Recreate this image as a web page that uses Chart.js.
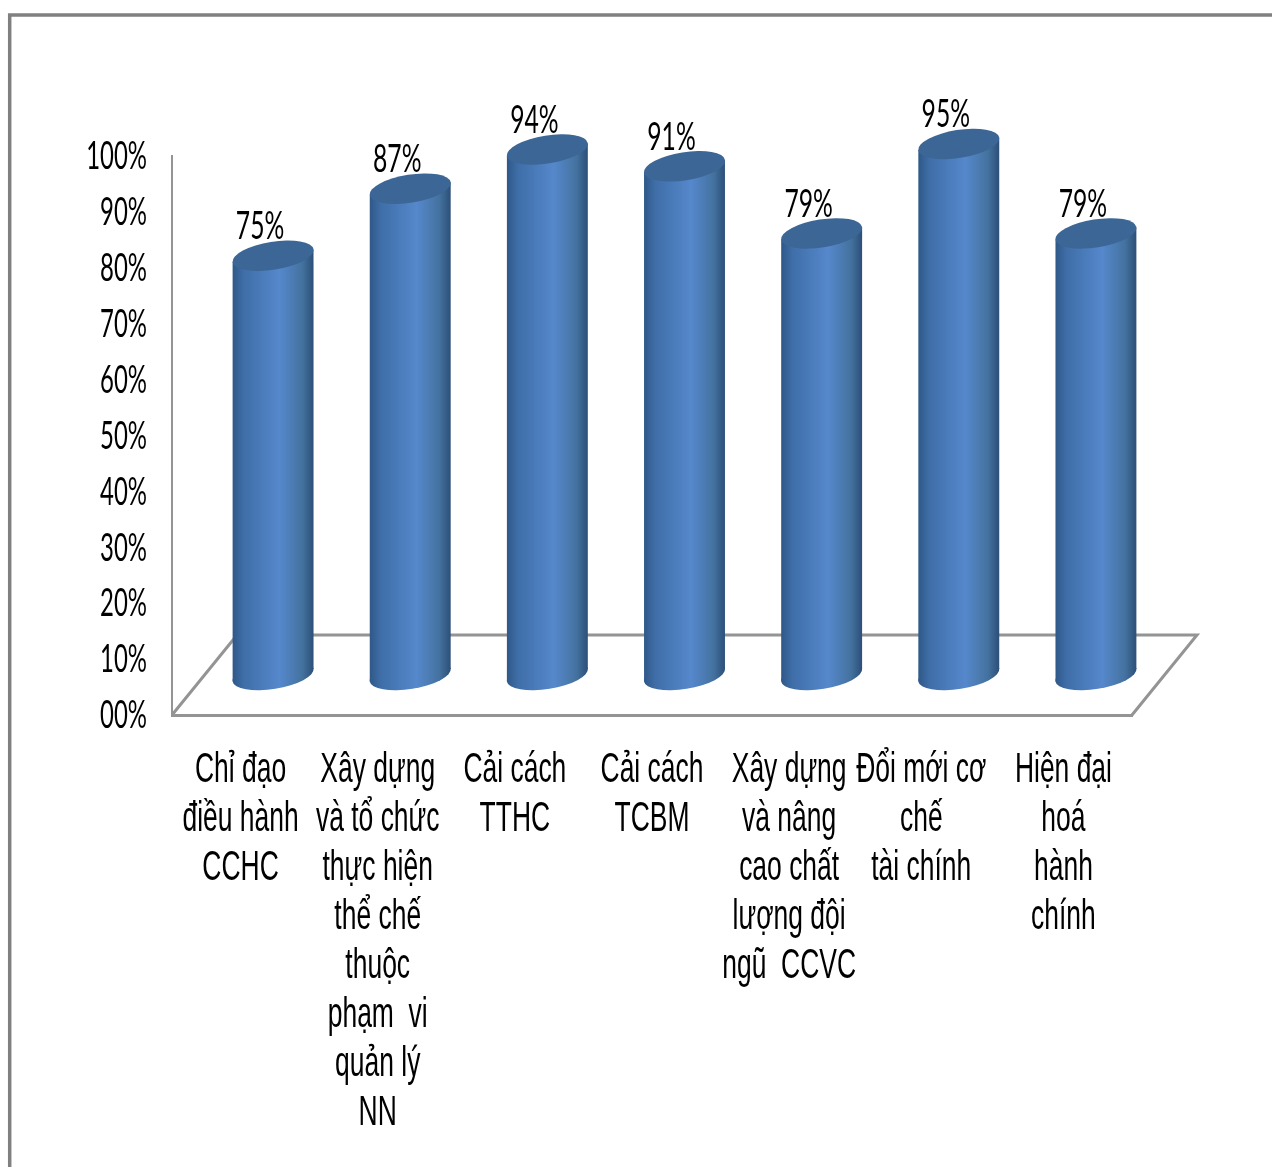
<!DOCTYPE html>
<html>
<head>
<meta charset="utf-8">
<title>Chart</title>
<script src="https://cdn.jsdelivr.net/npm/chart.js@4"></script>
<style>
    html, body { margin: 0; padding: 0; background: #fff; }
    canvas { display: block; }
</style>
</head>
<body>
<canvas id="chart" width="1272" height="1167"></canvas>
<script>
const categories = [
    ['Chỉ đạo', 'điều hành', 'CCHC'],
    ['Xây dựng', 'và tổ chức', 'thực hiện', 'thể chế', 'thuộc', 'phạm  vi', 'quản lý', 'NN'],
    ['Cải cách', 'TTHC'],
    ['Cải cách', 'TCBM'],
    ['Xây dựng', 'và nâng', 'cao chất', 'lượng đội', 'ngũ  CCVC'],
    ['Đổi mới cơ', 'chế', 'tài chính'],
    ['Hiện đại', 'hoá', 'hành', 'chính']
]
const values = [75, 87, 94, 91, 79, 95, 79]

const GREY = '#949494'
const DEPTH_X = 32.5     // cylinders sit halfway back on the floor
const DEPTH_Y = 40
const CAT_LINE = 49

// squeezed text, the labels on this chart are very narrow and tall
function narrowText(ctx, text, x, y, font, squeeze, align) {
    ctx.save()
    ctx.translate(x, y)
    ctx.scale(squeeze, 1)
    ctx.font = font
    ctx.fillStyle = '#000'
    ctx.textAlign = align
    ctx.textBaseline = 'middle'
    ctx.fillText(text, 0, 0)
    ctx.restore()
}

function drawCylinder(ctx, el) {
    const cx = el.x + DEPTH_X
    const top = el.y - DEPTH_Y
    const base = el.base - DEPTH_Y
    const rx = 41, ry = 14, tilt = -9 * Math.PI / 180
    const half = el.width / 2
    const lean = 6

    const body = ctx.createLinearGradient(cx - half, 0, cx + half, 0)
    body.addColorStop(0, '#2f5888')
    body.addColorStop(0.14, '#3f6ea8')
    body.addColorStop(0.58, '#5588cc')
    body.addColorStop(0.86, '#44729f')
    body.addColorStop(1, '#2c4f78')

    ctx.fillStyle = body
    ctx.beginPath()
    ctx.moveTo(cx - half, top + lean)
    ctx.lineTo(cx + half, top - lean)
    ctx.lineTo(cx + half, base - lean)
    ctx.lineTo(cx - half, base + lean)
    ctx.closePath()
    ctx.fill()

    ctx.beginPath()
    ctx.ellipse(cx, base, rx, ry, tilt, 0, Math.PI * 2)
    ctx.fill()

    ctx.fillStyle = '#3c6695'
    ctx.beginPath()
    ctx.ellipse(cx, top, rx, ry, tilt, 0, Math.PI * 2)
    ctx.fill()
}

const cylinders = {
    id: 'cylinders',
    beforeDatasetsDraw(chart) {
        const { ctx, chartArea: a } = chart

        // page frame, runs off the right and bottom
        ctx.save()
        ctx.strokeStyle = '#808080'
        ctx.lineWidth = 3.5
        ctx.beginPath()
        ctx.moveTo(9.7, 1167)
        ctx.lineTo(9.7, 15)
        ctx.lineTo(1272, 15)
        ctx.stroke()

        // floor of the 3d plot
        ctx.strokeStyle = GREY
        ctx.lineWidth = 3
        ctx.beginPath()
        ctx.moveTo(a.left, a.bottom)
        ctx.lineTo(a.left + DEPTH_X * 2, a.bottom - DEPTH_Y * 2)
        ctx.lineTo(a.right + DEPTH_X * 2, a.bottom - DEPTH_Y * 2)
        ctx.lineTo(a.right, a.bottom)
        ctx.stroke()
        ctx.restore()
    },
    afterDatasetsDraw(chart) {
        const { ctx } = chart
        const meta = chart.getDatasetMeta(0)

        chart.scales.y.ticks.forEach((tick, i) => {
            narrowText(ctx, tick.label, 147, chart.scales.y.getPixelForTick(i) + 1, '38px Lato', 0.63, 'right')
        })

        chart.scales.x.ticks.forEach((tick, i) => {
            const x = chart.scales.x.getPixelForTick(i) - (i === 5 ? 5 : 0)
            tick.label.forEach((line, n) => {
                narrowText(ctx, line, x, 770 + n * CAT_LINE, '42px "Liberation Sans"', 0.63, 'center')
            })
        })

        meta.data.forEach((el, i) => {
            narrowText(ctx, values[i] + '%', el.x + DEPTH_X - 13, el.y - DEPTH_Y - 29, '38px Lato', 0.65, 'center')
        })
        meta.data.forEach(el => drawCylinder(ctx, el))
    }
}

new Chart(document.getElementById('chart'), {
    type: 'bar',
    data: {
        labels: categories,
        datasets: [{
            data: values,
            backgroundColor: 'transparent',
            barPercentage: 0.59,
            categoryPercentage: 1
        }]
    },
    options: {
        responsive: false,
        animation: false,
        layout: { padding: { left: 164, right: 140, top: 156, bottom: 444 } },
        plugins: { legend: { display: false }, tooltip: { enabled: false } },
        scales: {
            x: {
                grid: { display: false },
                border: { color: GREY, width: 3 },
                ticks: { display: false, autoSkip: false }
            },
            y: {
                min: 0,
                max: 100,
                grid: { display: false },
                border: { color: GREY, width: 2 },
                ticks: {
                    display: false,
                    stepSize: 10,
                    callback: v => String(v).padStart(2, '0') + '%'
                }
            }
        }
    },
    plugins: [cylinders]
})
</script>
</body>
</html>
